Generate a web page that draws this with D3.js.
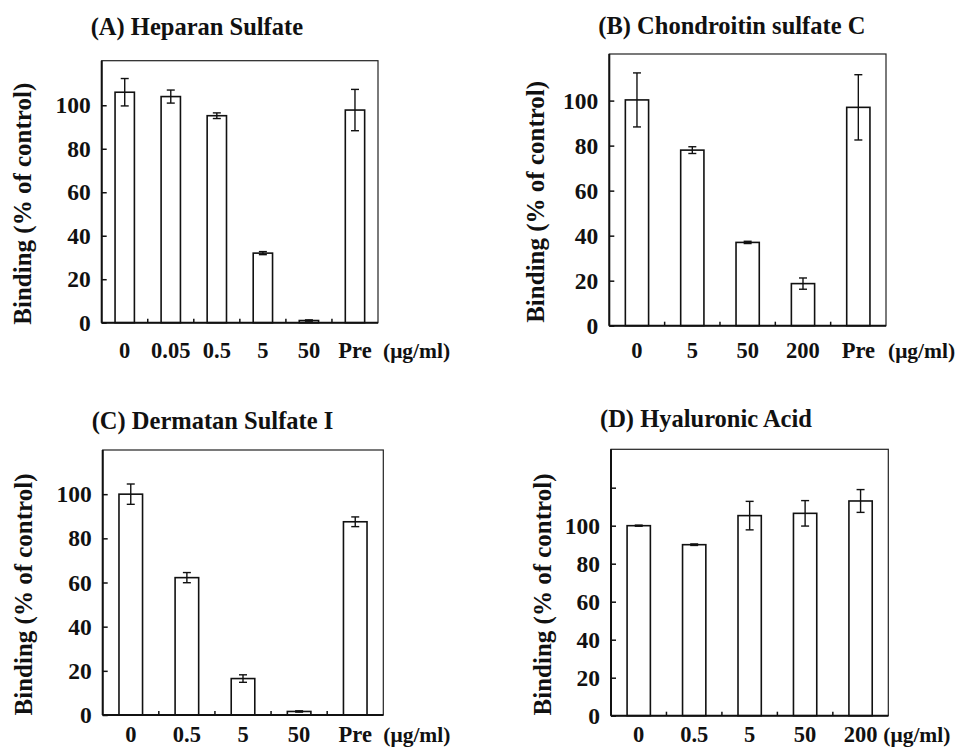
<!DOCTYPE html>
<html>
<head>
<meta charset="UTF-8">
<script src="https://d3js.org/d3.v7.min.js"></script>
<style>
  body { margin: 0; background: #fff; }
  svg { display: block; }
  svg text { font-family: "Liberation Serif", "DejaVu Serif", "Times New Roman", serif; font-weight: bold; fill: #111; }
</style>
</head>
<body>
<svg id="chart" width="957" height="753"></svg>
<script>
// (A) Heparan Sulfate
const catsA = ["0", "0.05", "0.5", "5", "50", "Pre"];
const valsA = [106, 104, 95.2, 32, 1, 97.8];
const errsA = [6.3, 3, 1.3, 0.7, 0.3, 9.5];

// (B) Chondroitin sulfate C
const catsB = ["0", "5", "50", "200", "Pre"];
const valsB = [100.3, 78, 37, 18.7, 97];
const errsB = [12, 1.5, 0.5, 2.5, 14.5];

// (C) Dermatan Sulfate I
const catsC = ["0", "0.5", "5", "50", "Pre"];
const valsC = [100, 62.2, 16.5, 1.6, 87.5];
const errsC = [4.6, 2.3, 1.7, 0.3, 2.2];

// (D) Hyaluronic Acid
const catsD = ["0", "0.5", "5", "50", "200"];
const valsD = [100, 90, 105.3, 106.5, 113];
const errsD = [0.3, 0.4, 7.5, 6.7, 6];

const ticksABC = [0, 20, 40, 60, 80, 100];
const ticksD = [0, 20, 40, 60, 80, 100, 120];
const unitLabel = "(μg/ml)";
const yLabel = "Binding (% of control)";

const panels = [
  { title: "(A) Heparan Sulfate", cats: catsA, vals: valsA, errs: errsA, ymax: 120.5, ticks: ticksABC,
    box: { x: 101.7, y: 60.7, w: 276.3, h: 262 }, xlabDy: 35, unitDx: 5, ylabDx: -79, titleDy: -26 },
  { title: "(B) Chondroitin sulfate C", cats: catsB, vals: valsB, errs: errsB, ymax: 120.7, ticks: ticksABC,
    box: { x: 609.3, y: 54, w: 276.7, h: 271.7 }, xlabDy: 32, unitDx: 2, ylabDx: -74, titleDy: -20 },
  { title: "(C) Dermatan Sulfate I", cats: catsC, vals: valsC, errs: errsC, ymax: 120, ticks: ticksABC,
    box: { x: 102.7, y: 450, w: 280.6, h: 265 }, xlabDy: 27, unitDx: 0, ylabDx: -79, titleDy: -21 },
  { title: "(D) Hyaluronic Acid", cats: catsD, vals: valsD, errs: errsD, ymax: 140.2, ticks: ticksD,
    box: { x: 611, y: 449.3, w: 277.3, h: 266.4 }, xlabDy: 26, unitDx: -5, ylabDx: -69, titleDy: -22 }
];

const serif = '"Liberation Serif", "DejaVu Serif", serif';
const svg = d3.select("#chart");

panels.forEach(p => {
  const { x: bx, y: by, w, h } = p.box;
  const g = svg.append("g").attr("transform", `translate(${bx},${by})`);

  const x = d3.scaleBand().domain(p.cats).range([0, w]).paddingInner(0.58).paddingOuter(0.29);
  const y = d3.scaleLinear().domain([0, p.ymax]).range([h, 0]);

  // bars
  g.selectAll("rect.bar")
    .data(p.vals)
    .join("rect")
    .attr("class", "bar")
    .attr("x", (_, i) => x(p.cats[i]))
    .attr("y", d => y(d))
    .attr("width", x.bandwidth())
    .attr("height", d => h - y(d))
    .attr("fill", "#fff")
    .attr("stroke", "#111")
    .attr("stroke-width", 1.6);

  // error bars
  const eb = g.selectAll("g.err")
    .data(p.vals)
    .join("g")
    .attr("class", "err")
    .attr("transform", (_, i) => `translate(${x(p.cats[i]) + x.bandwidth() / 2},0)`);
  eb.append("line")
    .attr("y1", (d, i) => y(d - p.errs[i]))
    .attr("y2", (d, i) => y(d + p.errs[i]));
  eb.append("line")
    .attr("x1", -4).attr("x2", 4)
    .attr("y1", (d, i) => y(d + p.errs[i]))
    .attr("y2", (d, i) => y(d + p.errs[i]));
  eb.append("line")
    .attr("x1", -4).attr("x2", 4)
    .attr("y1", (d, i) => y(d - p.errs[i]))
    .attr("y2", (d, i) => y(d - p.errs[i]));
  eb.selectAll("line").attr("stroke", "#111").attr("stroke-width", 1.4);

  // frame
  g.append("rect")
    .attr("width", w).attr("height", h)
    .attr("fill", "none")
    .attr("stroke", "#222")
    .attr("stroke-width", 1.2);
  g.append("line").attr("x1", 0).attr("x2", 0).attr("y1", 0).attr("y2", h)
    .attr("stroke", "#111").attr("stroke-width", 2);
  g.append("line").attr("x1", 0).attr("x2", w).attr("y1", h).attr("y2", h)
    .attr("stroke", "#111").attr("stroke-width", 2);

  // y axis (inward ticks)
  const ya = g.append("g")
    .call(d3.axisLeft(y).tickValues(p.ticks).tickSize(-5).tickPadding(11)
      .tickFormat(d => d <= 100 ? d : ""));
  ya.attr("font-family", serif).attr("font-size", 23);
  ya.select(".domain").remove();
  ya.selectAll(".tick line").attr("stroke", "#111").attr("stroke-width", 1.5);
  ya.selectAll(".tick text").style("font-size", "23.5px");

  // x labels
  const xa = g.append("g")
    .attr("transform", `translate(0,${h})`)
    .call(d3.axisBottom(x).tickSize(0).tickPadding(0));
  xa.attr("font-family", serif).attr("font-size", 22);
  xa.select(".domain").remove();
  xa.selectAll(".tick text")
    .attr("dy", null)
    .attr("y", p.xlabDy)
    .style("font-size", "22.5px");

  // inward ticks at band boundaries
  g.selectAll("line.bt")
    .data(p.cats.slice(1))
    .join("line")
    .attr("class", "bt")
    .attr("x1", d => x(d) + x.bandwidth() / 2 - x.step() / 2)
    .attr("x2", d => x(d) + x.bandwidth() / 2 - x.step() / 2)
    .attr("y1", h).attr("y2", h - 4)
    .attr("stroke", "#111").attr("stroke-width", 1.5);

  // unit
  g.append("text")
    .attr("x", w + p.unitDx)
    .attr("y", h + p.xlabDy)
    .style("font-size", "21.5px")
    .text(unitLabel);

  // y label
  g.append("text")
    .attr("transform", `translate(${p.ylabDx},${h / 2 + 12}) rotate(-90)`)
    .attr("text-anchor", "middle")
    .attr("dy", "0.35em")
    .style("font-size", "25px")
    .text(yLabel);

  // title
  g.append("text")
    .attr("x", -11)
    .attr("y", p.titleDy)
    .style("font-size", "24.5px")
    .text(p.title);
});
</script>
</body>
</html>
